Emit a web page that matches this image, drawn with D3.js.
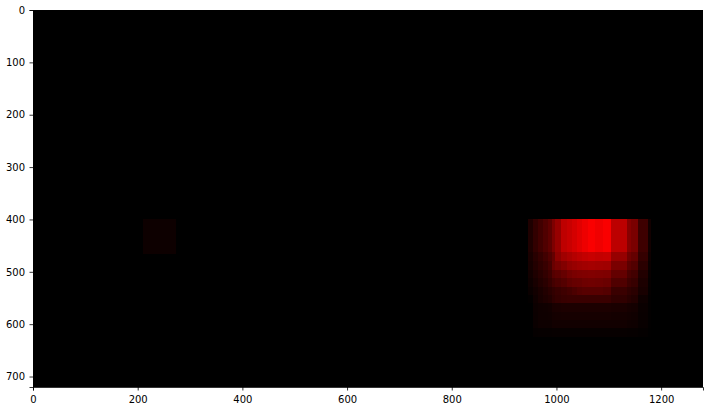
<!DOCTYPE html>
<html>
<head>
<meta charset="utf-8">
<script src="https://d3js.org/d3.v7.min.js"></script>
<style>
  html, body { margin: 0; padding: 0; background: #fff; }
  svg { display: block; }
  text { font-family: "DejaVu Sans", sans-serif; font-size: 10px; fill: #000; }
</style>
</head>
<body>
<div class="layout"></div>
<script>
// image size of the heat map, in pixels of the source frame
var imageWidth = 1280;
var imageHeight = 720;

var xTicks = [0, 200, 400, 600, 800, 1000, 1200];
var yTicks = [0, 100, 200, 300, 400, 500, 600, 700];

// the faint patch on the left
var faintX = [210, 273];
var faintY = [400, 466];
var faintHeat = 13;

// cell edges of the big patch
var heatX = [946, 955, 965, 974, 984, 992, 997, 1009, 1020, 1030, 1039, 1049, 1060, 1074, 1089, 1104, 1135, 1143, 1156, 1175, 1181];
var heatY = [400, 462, 479, 497, 512, 529, 544, 560, 577, 592, 607, 625];

// red channel per row, top to bottom
var heat = [
    [30, 50, 65, 80, 95, 125, 150, 190, 200, 212, 225, 238, 250, 240, 250, 188, 135, 122, 62, 18],
    [25, 40, 52, 65, 80, 100, 140, 160, 170, 180, 188, 195, 200, 195, 198, 150, 112, 100, 52, 14],
    [22, 35, 46, 56, 70, 105, 118, 130, 145, 152, 158, 162, 165, 162, 160, 122, 92, 82, 42, 10],
    [18, 30, 40, 50, 62, 85, 92, 102, 115, 122, 126, 128, 130, 128, 126, 100, 74, 66, 34, 8],
    [14, 24, 34, 42, 54, 68, 76, 84, 96, 102, 104, 110, 112, 110, 106, 80, 62, 55, 28, 6],
    [10, 18, 26, 34, 42, 50, 56, 62, 68, 76, 84, 88, 88, 88, 84, 58, 48, 42, 24, 5],
    [3, 15, 24, 30, 35, 46, 52, 56, 58, 58, 58, 58, 58, 58, 58, 48, 40, 34, 14, 3],
    [0, 12, 15, 16, 18, 25, 26, 28, 28, 28, 28, 28, 28, 28, 28, 26, 22, 20, 10, 3],
    [0, 11, 15, 15, 16, 20, 21, 22, 22, 22, 22, 22, 22, 22, 22, 20, 18, 16, 9, 3],
    [0, 10, 14, 14, 14, 18, 18, 18, 18, 18, 18, 18, 18, 18, 18, 18, 15, 14, 8, 2],
    [0, 5, 6, 6, 6, 7, 7, 7, 7, 7, 7, 7, 7, 7, 7, 7, 6, 6, 4, 1]
];

var svg = d3.select(".layout").append("svg").attr("width", 713).attr("height", 411);

var x = d3.scaleLinear().domain([0, imageWidth]).range([33, 703]);
var y = d3.scaleLinear().domain([0, imageHeight]).range([10, 387]);

var red = function(v) { return "rgb(" + v + ",0,0)"; };

// black background of the image
svg.append("rect")
    .attr("x", x(0))
    .attr("y", y(0))
    .attr("width", x(imageWidth) - x(0))
    .attr("height", y(imageHeight) - y(0))
    .attr("fill", "#000");

svg.append("rect")
    .attr("x", x(faintX[0]))
    .attr("y", y(faintY[0]))
    .attr("width", x(faintX[1]) - x(faintX[0]))
    .attr("height", y(faintY[1]) - y(faintY[0]))
    .attr("fill", red(faintHeat))
    .attr("shape-rendering", "crispEdges");

var cells = svg.append("g").attr("shape-rendering", "crispEdges");
heat.forEach(function(row, r) {
    row.forEach(function(v, c) {
        cells.append("rect")
            .attr("x", x(heatX[c]))
            .attr("y", y(heatY[r]))
            .attr("width", x(heatX[c + 1]) - x(heatX[c]))
            .attr("height", y(heatY[r + 1]) - y(heatY[r]))
            .attr("fill", red(v));
    });
});

var xAxis = d3.axisBottom(x).tickValues(xTicks).tickSize(3.5).tickPadding(5).tickFormat(d3.format("d"));
var yAxis = d3.axisLeft(y).tickValues(yTicks).tickSize(3.5).tickPadding(4.5).tickFormat(d3.format("d"));

svg.append("g").attr("transform", "translate(0," + y(imageHeight) + ")").call(xAxis);
svg.append("g").attr("transform", "translate(" + x(0) + ",0)").call(yAxis);

svg.selectAll(".domain").attr("stroke", "#000").attr("stroke-width", 0.8);
svg.selectAll(".tick line").attr("stroke", "#000").attr("stroke-width", 0.8);
svg.selectAll(".tick text").attr("font-family", "DejaVu Sans").attr("font-size", 10).attr("fill", "#000");
</script>
</body>
</html>
